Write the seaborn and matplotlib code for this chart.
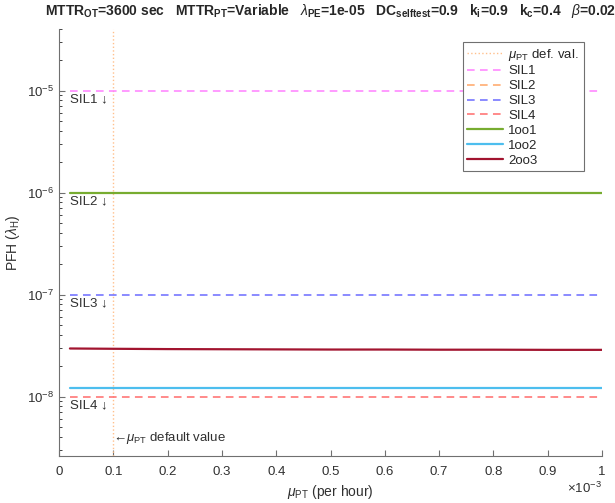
import numpy as np
import pandas as pd
import matplotlib
matplotlib.use("Agg")
import matplotlib.pyplot as plt
import seaborn as sns
from matplotlib.ticker import FixedLocator, FuncFormatter, LogLocator, NullFormatter

# ---------------------------------------------------------------
# data
# ---------------------------------------------------------------
mu_pt = [0.02e-3, 0.1e-3, 0.2e-3, 0.3e-3, 0.4e-3, 0.5e-3,
         0.6e-3, 0.7e-3, 0.8e-3, 0.9e-3, 1.0e-3]
pfh_1oo1 = [1.0e-6] * 11
pfh_1oo2 = [1.22e-8, 1.22e-8, 1.22e-8, 1.22e-8, 1.22e-8, 1.22e-8,
            1.22e-8, 1.22e-8, 1.22e-8, 1.22e-8, 1.22e-8]
pfh_2oo3 = [2.96e-8, 2.94e-8, 2.92e-8, 2.91e-8, 2.90e-8, 2.89e-8,
            2.89e-8, 2.88e-8, 2.88e-8, 2.87e-8, 2.87e-8]

sil_names = ["SIL1", "SIL2", "SIL3", "SIL4"]
sil_limits = [1e-5, 1e-6, 1e-7, 1e-8]
mu_default = 0.1e-3

arch_names = ["1oo1", "1oo2", "2oo3"]
arch_values = [pfh_1oo1, pfh_1oo2, pfh_2oo3]

sil_colors = ["#ff80ff", "#ffa566", "#6b6bff", "#ff6b6b"]
arch_colors = ["#77ac30", "#4dbeee", "#a2142f"]
default_color = "#ffc08c"

# ---------------------------------------------------------------
# style
# ---------------------------------------------------------------
sns.set_style("ticks")
plt.rcParams["font.family"] = ["Liberation Sans", "DejaVu Sans"]
plt.rcParams["mathtext.fontset"] = "custom"
plt.rcParams["mathtext.rm"] = "Liberation Sans"
plt.rcParams["mathtext.it"] = "Liberation Sans:italic"
plt.rcParams["mathtext.bf"] = "Liberation Sans:bold"
plt.rcParams["xtick.direction"] = "in"
plt.rcParams["ytick.direction"] = "in"
axis_gray = "#707070"
text_gray = "#303030"

fig = plt.figure(figsize=(6.15, 5.03), dpi=100)
ax = fig.add_axes([0.096, 0.093, 0.883, 0.849])

# default value marker + SIL boundaries
ax.axvline(mu_default, color=default_color, ls=":", lw=1.0,
           label=r"$\mu_{\mathrm{PT}}$ def. val.")
for name, lim, col in zip(sil_names, sil_limits, sil_colors):
    sns.lineplot(x=[mu_pt[0], mu_pt[-1]], y=[lim, lim], color=col,
                 dashes=False, lw=1.1, label=name, ax=ax)
    ax.lines[-1].set_dashes((5, 3.5))
    ax.text(mu_pt[0], lim * 0.93, name + " \u2193", ha="left", va="top",
            fontsize=9.5, color=text_gray)

# architectures
df = pd.DataFrame({
    "mu": mu_pt * 3,
    "pfh": sum(arch_values, []),
    "arch": np.repeat(arch_names, len(mu_pt)),
})
for name, col in zip(arch_names, arch_colors):
    sub = df[df["arch"] == name]
    sns.lineplot(data=sub, x="mu", y="pfh", color=col, lw=1.6, label=name, ax=ax)

ax.text(mu_default, 3.9e-9, "\u2190" + r"$\mu_{\mathrm{PT}}$ default value", ha="left",
        va="center", fontsize=9.5, color=text_gray)

# axes
ax.set_yscale("log")
ax.set_xlim(0, 1e-3)
ax.set_ylim(2.6e-9, 4.0e-5)
ax.xaxis.set_major_locator(FixedLocator(np.arange(0, 11) * 1e-4))
ax.xaxis.set_major_formatter(FuncFormatter(lambda v, p: f"{v * 1e3:g}"))
ax.yaxis.set_major_locator(LogLocator(base=10, numticks=10))
ax.yaxis.set_minor_locator(LogLocator(base=10, subs=np.arange(2, 10), numticks=20))
ax.yaxis.set_minor_formatter(NullFormatter())
ax.tick_params(colors=axis_gray, labelcolor=text_gray, labelsize=9.5, length=4)
ax.tick_params(axis="x", pad=7)
ax.tick_params(which="minor", length=2.5)
for side in ["top", "right"]:
    ax.spines[side].set_visible(False)
for side in ["left", "bottom"]:
    ax.spines[side].set_color(axis_gray)

ax.set_xlabel(r"$\mu_{\mathrm{PT}}$ (per hour)", fontsize=10, color=text_gray, labelpad=4)
ax.set_ylabel(r"PFH ($\lambda_{\mathrm{H}}$)", fontsize=10, color=text_gray)
ax.text(1.0, -0.075, r"$\times10^{-3}$", transform=ax.transAxes, ha="right",
        va="center", fontsize=9.5, color=text_gray)

ax.set_title(r"MTTR$_{\mathbf{OT}}$=3600 sec   MTTR$_{\mathbf{PT}}$=Variable   "
             r"$\lambda_{\mathbf{PE}}$=1e-05   DC$_{\mathbf{selftest}}$=0.9   "
             r"k$_{\mathbf{i}}$=0.9   k$_{\mathbf{c}}$=0.4   $\beta$=0.02",
             fontsize=10, fontweight="bold", pad=10)

leg = ax.legend(loc="upper right", bbox_to_anchor=(0.966, 0.97), borderaxespad=0,
                fontsize=9.5, frameon=True, fancybox=False, edgecolor=axis_gray,
                framealpha=1, handlelength=2.7, handletextpad=0.4,
                labelspacing=0.2, borderpad=0.35)
leg.get_frame().set_linewidth(0.8)

fig.savefig("out.png", dpi=100)
